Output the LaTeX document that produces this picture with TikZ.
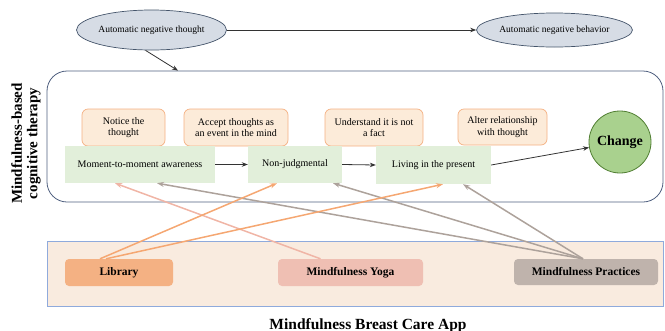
\documentclass[tikz,border=0pt]{standalone}
\usepackage{fontspec}
\setmainfont{Liberation Serif}
\usetikzlibrary{shapes.geometric,arrows.meta,calc}
\definecolor{ellfill}{HTML}{D6DCE5}
\definecolor{ellbord}{HTML}{44546A}
\definecolor{frame}{HTML}{4F5F7F}
\definecolor{ofill}{HTML}{FCEBD9}
\definecolor{obord}{HTML}{F4B183}
\definecolor{gfill}{HTML}{E2EFDA}
\definecolor{chfill}{HTML}{A9D18E}
\definecolor{chbord}{HTML}{507E32}
\definecolor{appfill}{HTML}{F9EBDF}
\definecolor{appbord}{HTML}{8FAADC}
\definecolor{libfill}{HTML}{F4B183}
\definecolor{yogafill}{HTML}{EFBFB3}
\definecolor{pracfill}{HTML}{BFB3AC}
\definecolor{libline}{HTML}{F5A772}
\definecolor{yogaline}{HTML}{F0B5A6}
\definecolor{pracline}{HTML}{ADA29B}
\tikzset{
  x=1pt,y=-1pt,
  ell/.style={ellipse,draw=ellbord,fill=ellfill,line width=0.7pt,inner sep=0pt,font=\fontsize{9.5}{11}\selectfont},
  obox/.style={draw=obord,fill=ofill,rounded corners=6pt,line width=0.7pt,inner sep=0pt,align=center,minimum height=37pt,font=\fontsize{10}{11.5}\selectfont},
  gbox/.style={fill=gfill,inner sep=0pt,minimum height=37pt,font=\fontsize{10}{11.5}\selectfont},
  appbtn/.style={rounded corners=4pt,inner sep=0pt,minimum height=27pt,font=\bfseries\fontsize{11.5}{13}\selectfont},
  blk/.style={-{Stealth[length=6pt,width=4.5pt]},line width=0.8pt,draw=black!80},
  col/.style={-{Stealth[length=7pt,width=5pt]},line width=1.5pt},
}
\begin{document}
\begin{tikzpicture}
\useasboundingbox (0,0) rectangle (665,330);
% top ellipses
\node[ell,minimum width=147pt,minimum height=40pt] (e1) at (151.5,30) {Automatic negative thought};
\node[ell,minimum width=145pt,minimum height=34pt] (e2) at (554.5,30) {Automatic negative behavior};
% MBCT frame
\node[draw=frame,line width=0.8pt,rounded corners=20pt,minimum width=616pt,minimum height=131pt,inner sep=0pt] (mbct) at (355,136.5) {};
\node[rotate=90,align=center,font=\bfseries\fontsize{15}{15.5}\selectfont] (mlab) at (26,143.5) {Mindfulness-based\\cognitive therapy};
% orange boxes
\node[obox,minimum width=83pt] (n1) at (123.5,127.5) {Notice the\\thought};
\node[obox,minimum width=104pt] (n2) at (236,127.5) {Accept thoughts as\\an event in the mind};
\node[obox,minimum width=98pt] (n3) at (374,127.5) {Understand it is not\\a fact};
\node[obox,minimum width=89pt,minimum height=36pt] (n4) at (502.5,127) {Alter relationship\\with thought};
% green boxes
\node[gbox,minimum width=150pt] (g1) at (140,164.5) {Moment-to-moment awareness};
\node[gbox,minimum width=94pt] (g2) at (295,164.5) {Non-judgmental};
\node[gbox,minimum width=115pt,minimum height=38pt] (g3) at (433.5,165) {Living in the present};
% change
\node[circle,draw=chbord,fill=chfill,line width=0.8pt,minimum size=62pt,inner sep=0pt,font=\bfseries\fontsize{14}{16}\selectfont] (ch) at (620,142) {Change};
% app frame
\node[draw=appbord,fill=appfill,line width=0.8pt,minimum width=616pt,minimum height=65pt,inner sep=0pt] (app) at (355,273.5) {};
\node[appbtn,fill=libfill,minimum width=108pt] (lib) at (119,272.5) {Library};
\node[appbtn,fill=yogafill,minimum width=145pt] (yoga) at (350.5,272.5) {Mindfulness Yoga};
\node[appbtn,fill=pracfill,minimum width=144pt,minimum height=26pt] (prac) at (586,272) {Mindfulness Practices};
\node[anchor=base,font=\bfseries\fontsize{15.5}{17}\selectfont] (title) at (368,329.5) {Mindfulness Breast Care App};
% black arrows
\draw[blk] (e1.east) -- (e2.west);
\draw[blk] ([xshift=-6pt]e1.south) -- ([xshift=-177pt]mbct.north);
\draw[blk] (g1.east) -- (g2.west);
\draw[blk] (g2.east) -- (g3.west);
\draw[blk] (g3.east) -- (ch);
% coloured connectors
\draw[col,draw=yogaline] ([xshift=-30pt]yoga.north) -- ([xshift=-25pt]g1.south);
\draw[col,draw=pracline] ([xshift=-3pt]prac.north) -- ([xshift=17pt]g1.south);
\draw[col,draw=pracline] ([xshift=-3pt]prac.north) -- ([xshift=38pt]g2.south);
\draw[col,draw=pracline] ([xshift=-3pt]prac.north) -- ([xshift=29.5pt]g3.south);
\draw[col,draw=libline] ([xshift=-19pt]lib.north) -- ([xshift=-18pt]g2.south);
\draw[col,draw=libline] ([xshift=-13pt]lib.north) -- ([xshift=9.5pt]g3.south);
\end{tikzpicture}
\end{document}
